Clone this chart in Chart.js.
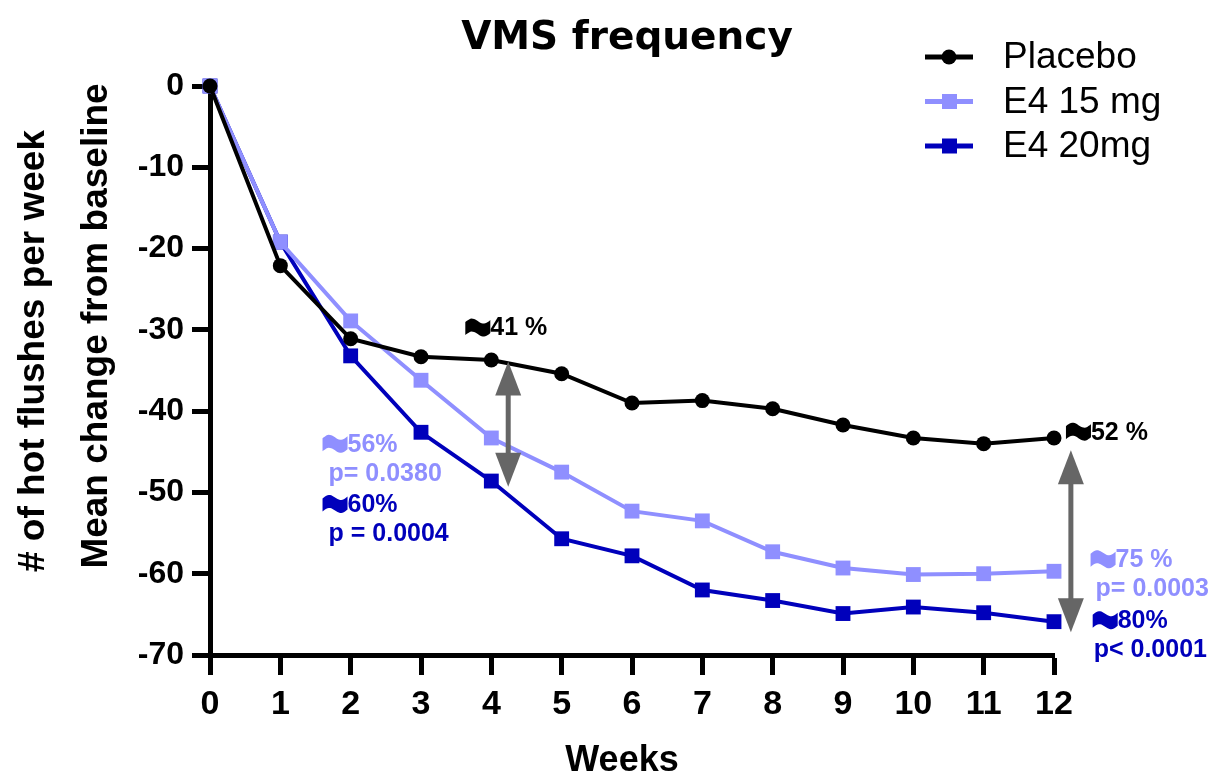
<!DOCTYPE html>
<html>
<head>
<meta charset="utf-8">
<script src="https://cdn.jsdelivr.net/npm/chart.js@4"></script>
<style>
  html, body { margin: 0; padding: 0; background: #fff; }
  canvas { display: block; }
</style>
</head>
<body>
<canvas id="chart" width="1210" height="773" style="width:1210px;height:773px"></canvas>
<script>
const weeks = [0, 1, 2, 3, 4, 5, 6, 7, 8, 9, 10, 11, 12];
const placebo = [0, -22.1, -31.1, -33.3, -33.7, -35.4, -39.0, -38.7, -39.7, -41.7, -43.3, -44.0, -43.3];
const e4_15mg = [0, -19.2, -28.9, -36.2, -43.3, -47.5, -52.3, -53.5, -57.3, -59.3, -60.1, -60.0, -59.7];
const e4_20mg = [0, -19.2, -33.2, -42.6, -48.6, -55.7, -57.8, -62.0, -63.3, -64.9, -64.1, -64.8, -65.9];
const yTicks = [0, -10, -20, -30, -40, -50, -60, -70];

const BLACK = "#000000";
const LIGHT = "#8f8fff";
const DARK = "#0000bb";
const ARROW = "#666666";
const FONT = "'Liberation Sans', Arial, sans-serif";

const toXY = vals => weeks.map((w, i) => ({ x: w, y: vals[i] }));

// annotation texts, placed in data coordinates (first line gets the wave sign)
const notes = [
  { x: 3.63, y: -29.6, lines: ["41 %"], color: BLACK, dx: 0 },
  { x: 1.6, y: -43.9, lines: ["56%", "p= 0.0380"], color: LIGHT, dx: 6 },
  { x: 1.6, y: -51.3, lines: ["60%", "p = 0.0004"], color: DARK, dx: 6 },
  { x: 12.17, y: -42.4, lines: ["52 %"], color: BLACK, dx: 0 },
  { x: 12.52, y: -58.1, lines: ["75 %", "p= 0.0003"], color: LIGHT, dx: 5 },
  { x: 12.55, y: -65.6, lines: ["80%", "p< 0.0001"], color: DARK, dx: 1 }
];
const arrows = [
  { x: 4.24, y1: -33.9, y2: -49.3 },
  { x: 12.24, y1: -44.8, y2: -67.2 }
];

function wave(ctx, x, y, color) {
  // heavy "approx" sign: filled band with wavy top and bottom edges
  const w = 25, n = 20;
  const f = t => -3 * Math.sin(t * Math.PI * 2) - 2 * t;
  ctx.save();
  ctx.fillStyle = color;
  ctx.beginPath();
  for (let i = 0; i <= n; i++) {
    const t = i / n;
    const yy = y - 6.5 + f(t);
    if (i === 0) ctx.moveTo(x + w * t, yy); else ctx.lineTo(x + w * t, yy);
  }
  for (let i = n; i >= 0; i--) {
    const t = i / n;
    ctx.lineTo(x + w * t, y + 6.5 + f(t));
  }
  ctx.closePath();
  ctx.fill();
  ctx.restore();
}

const extras = {
  id: "extras",
  afterDatasetsDraw(chart) {
    const ctx = chart.ctx;
    const xs = chart.scales.x, ys = chart.scales.y;
    ctx.save();

    // arrows
    arrows.forEach(a => {
      const px = xs.getPixelForValue(a.x);
      const t = ys.getPixelForValue(a.y1), b = ys.getPixelForValue(a.y2);
      const hl = 34, hw = 13;
      ctx.strokeStyle = ARROW;
      ctx.fillStyle = ARROW;
      ctx.lineWidth = 5;
      ctx.beginPath();
      ctx.moveTo(px, t + hl - 2);
      ctx.lineTo(px, b - hl + 2);
      ctx.stroke();
      ctx.beginPath();
      ctx.moveTo(px, t); ctx.lineTo(px - hw, t + hl); ctx.lineTo(px + hw, t + hl); ctx.closePath();
      ctx.fill();
      ctx.beginPath();
      ctx.moveTo(px, b); ctx.lineTo(px - hw, b - hl); ctx.lineTo(px + hw, b - hl); ctx.closePath();
      ctx.fill();
    });

    // notes
    ctx.font = "bold 25px " + FONT;
    ctx.textBaseline = "middle";
    ctx.textAlign = "left";
    notes.forEach(n => {
      const px = xs.getPixelForValue(n.x), py = ys.getPixelForValue(n.y);
      ctx.fillStyle = n.color;
      wave(ctx, px, py + 2, n.color);
      ctx.fillText(n.lines[0], px + 25, py + 2);
      if (n.lines[1]) ctx.fillText(n.lines[1], px + n.dx, py + 31);
    });

    // title
    ctx.fillStyle = BLACK;
    ctx.textAlign = "center";
    ctx.textBaseline = "alphabetic";
    ctx.font = "bold 39px 'DejaVu Sans', Verdana, sans-serif";
    ctx.fillText("VMS frequency", 627, 49);

    // x axis title
    ctx.font = "bold 36px " + FONT;
    ctx.fillText("Weeks", 622, 771);

    // y axis title
    ctx.save();
    ctx.rotate(-Math.PI / 2);
    ctx.font = "bold 37px " + FONT;
    ctx.fillText("# of hot flushes per week", -351, 44);
    ctx.fillText("Mean change from baseline", -326, 107);
    ctx.restore();

    // legend
    const items = [
      { label: "Placebo", color: BLACK, style: "circle" },
      { label: "E4 15 mg", color: LIGHT, style: "rect" },
      { label: "E4 20mg", color: DARK, style: "rect" }
    ];
    ctx.textAlign = "left";
    ctx.textBaseline = "middle";
    ctx.font = "37px " + FONT;
    items.forEach((it, i) => {
      const y = 57 + i * 44.5;
      ctx.strokeStyle = it.color;
      ctx.fillStyle = it.color;
      ctx.lineWidth = 5;
      ctx.beginPath();
      ctx.moveTo(925, y); ctx.lineTo(973, y);
      ctx.stroke();
      if (it.style === "circle") {
        ctx.beginPath(); ctx.arc(949, y, 7.5, 0, Math.PI * 2); ctx.fill();
      } else {
        ctx.fillRect(942, y - 7.5, 15, 15);
      }
      ctx.fillStyle = BLACK;
      ctx.fillText(it.label, 1003, y + 1);
    });

    ctx.restore();
  }
};

new Chart(document.getElementById("chart"), {
  type: "line",
  data: {
    datasets: [
      { label: "Placebo", data: toXY(placebo), borderColor: BLACK, backgroundColor: BLACK, pointStyle: "circle", pointRadius: 7.5 },
      { label: "E4 15 mg", data: toXY(e4_15mg), borderColor: LIGHT, backgroundColor: LIGHT, pointStyle: "rect", pointRadius: 10.5 },
      { label: "E4 20mg", data: toXY(e4_20mg), borderColor: DARK, backgroundColor: DARK, pointStyle: "rect", pointRadius: 10.5 }
    ]
  },
  options: {
    responsive: false,
    animation: false,
    layout: { padding: { top: 86, right: 156, left: 0, bottom: 0 } },
    elements: {
      line: { borderWidth: 4, tension: 0 },
      point: { borderWidth: 0 }
    },
    datasets: { line: { clip: false } },
    plugins: { legend: { display: false }, tooltip: { enabled: false } },
    scales: {
      x: {
        type: "linear",
        min: 0, max: 12,
        afterFit(s) { s.height = 118; },
        afterBuildTicks(s) { s.ticks = weeks.map(v => ({ value: v })); },
        border: { display: true, width: 5, color: BLACK },
        grid: { drawOnChartArea: false, drawTicks: true, tickLength: 20, tickWidth: 5, color: BLACK },
        ticks: { color: BLACK, padding: 9, maxRotation: 0, font: { family: FONT, size: 34, weight: "bold" } }
      },
      y: {
        type: "linear",
        min: -70, max: 0,
        afterFit(s) { s.width = 210; },
        afterBuildTicks(s) { s.ticks = yTicks.map(v => ({ value: v })); },
        border: { display: true, width: 5, color: BLACK },
        grid: { drawOnChartArea: false, drawTicks: true, tickLength: 18, tickWidth: 5, color: BLACK },
        ticks: { color: BLACK, padding: 8, font: { family: FONT, size: 32, weight: "bold" } }
      }
    }
  },
  plugins: [extras]
});
</script>
</body>
</html>
